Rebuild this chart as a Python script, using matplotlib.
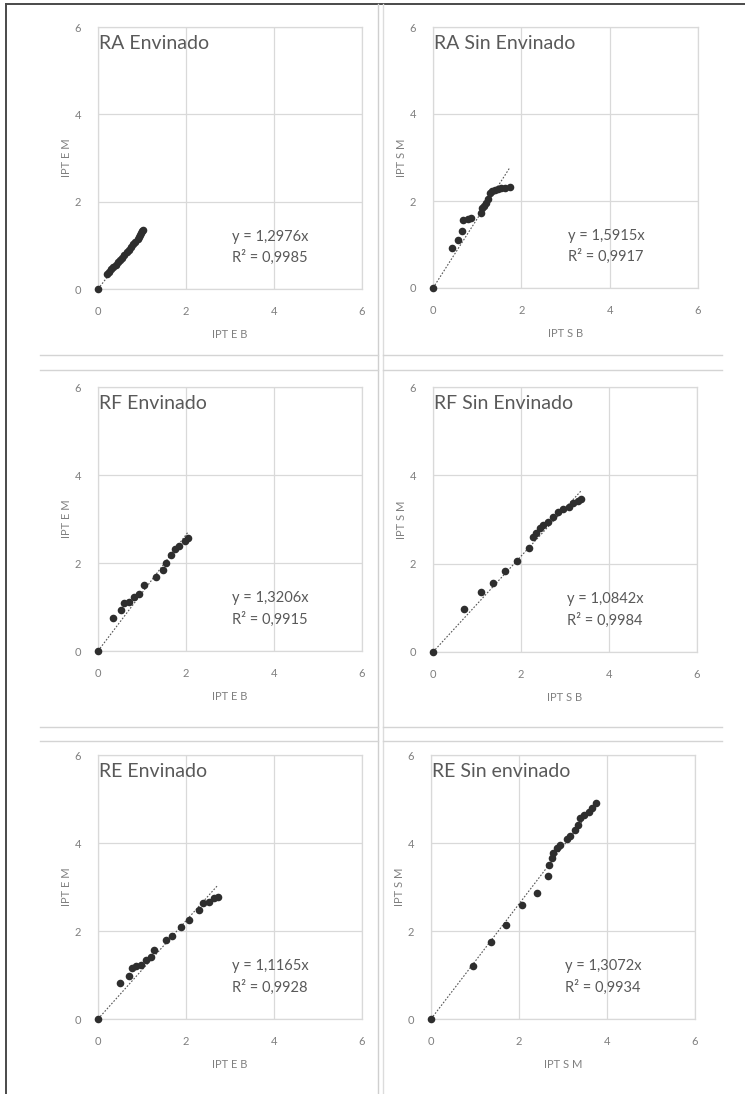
import matplotlib
matplotlib.use("Agg")
import numpy as np
import matplotlib.pyplot as plt
from matplotlib.lines import Line2D

plt.rcParams['font.family'] = ['Lato', 'DejaVu Sans']

# panel titles, axis labels and regression text
titles = ["RA Envinado", "RA Sin Envinado", "RF Envinado",
          "RF Sin Envinado", "RE Envinado", "RE Sin envinado"]
xlabels = ["IPT E B", "IPT S B", "IPT E B", "IPT S B", "IPT E B", "IPT S M"]
ylabels = ["IPT E M", "IPT S M", "IPT E M", "IPT S M", "IPT E M", "IPT S M"]
slopes = [1.2976, 1.5915, 1.3206, 1.0842, 1.1165, 1.3072]
r2 = [0.9985, 0.9917, 0.9915, 0.9984, 0.9928, 0.9934]

# RA Envinado
ra_e_x = [0.0, 0.20, 0.25, 0.30, 0.35, 0.40, 0.45, 0.50, 0.55, 0.60, 0.65,
          0.70, 0.75, 0.80, 0.85, 0.90, 0.93, 0.96, 0.98, 1.00, 1.02]
ra_e_y = [0.0, 0.35, 0.40, 0.45, 0.50, 0.55, 0.61, 0.67, 0.72, 0.78, 0.84,
          0.90, 0.96, 1.02, 1.08, 1.15, 1.19, 1.24, 1.28, 1.32, 1.36]
# RA Sin Envinado
ra_s_x = [0.0, 0.43, 0.57, 0.66, 0.68, 0.80, 0.87, 1.08, 1.10, 1.16, 1.21,
          1.25, 1.29, 1.34, 1.40, 1.47, 1.55, 1.64, 1.74]
ra_s_y = [0.0, 0.92, 1.10, 1.31, 1.57, 1.58, 1.60, 1.72, 1.83, 1.88, 1.95,
          2.05, 2.18, 2.22, 2.26, 2.28, 2.29, 2.30, 2.33]
# RF Envinado
rf_e_x = [0.0, 0.33, 0.52, 0.59, 0.71, 0.82, 0.94, 1.05, 1.32, 1.47, 1.55,
          1.66, 1.74, 1.85, 1.97, 2.04]
rf_e_y = [0.0, 0.74, 0.93, 1.08, 1.12, 1.23, 1.30, 1.49, 1.69, 1.84, 2.00,
          2.19, 2.31, 2.39, 2.49, 2.57]
# RF Sin Envinado
rf_s_x = [0.0, 0.71, 1.10, 1.37, 1.63, 1.92, 2.18, 2.28, 2.35, 2.43, 2.51,
          2.62, 2.73, 2.85, 2.96, 3.08, 3.19, 3.30, 3.36]
rf_s_y = [0.0, 0.98, 1.35, 1.57, 1.83, 2.06, 2.35, 2.61, 2.69, 2.80, 2.87,
          2.95, 3.06, 3.18, 3.24, 3.29, 3.37, 3.42, 3.46]
# RE Envinado
re_e_x = [0.0, 0.51, 0.70, 0.78, 0.87, 0.97, 1.08, 1.20, 1.27, 1.54, 1.69,
          1.88, 2.07, 2.30, 2.38, 2.53, 2.64, 2.72]
re_e_y = [0.0, 0.82, 0.97, 1.16, 1.20, 1.23, 1.35, 1.42, 1.57, 1.80, 1.88,
          2.10, 2.25, 2.48, 2.63, 2.67, 2.75, 2.78]
# RE Sin envinado
re_s_x = [0.0, 0.95, 1.36, 1.70, 2.06, 2.41, 2.65, 2.68, 2.74, 2.78, 2.86,
          2.93, 3.08, 3.16, 3.27, 3.35, 3.39, 3.47, 3.58, 3.67, 3.75]
re_s_y = [0.0, 1.20, 1.76, 2.13, 2.58, 2.87, 3.25, 3.50, 3.65, 3.77, 3.88,
          3.96, 4.08, 4.15, 4.30, 4.41, 4.56, 4.64, 4.71, 4.79, 4.92]

xs = [ra_e_x, ra_s_x, rf_e_x, rf_s_x, re_e_x, re_s_x]
ys = [ra_e_y, ra_s_y, rf_e_y, rf_s_y, re_e_y, re_s_y]

W, H = 745, 1094
fig = plt.figure(figsize=(W / 100, H / 100), dpi=100)

# axes boxes in pixels: left, right, top, bottom
boxes = [(98, 362, 27, 289), (433, 698, 27, 288),
         (98, 362, 387, 651), (433, 697, 387, 652),
         (98, 362, 755, 1019), (431, 695, 755, 1019)]

def px_line(x0, y0, x1, y1, color, lw):
    fig.add_artist(Line2D([x0 / W, x1 / W], [1 - y0 / H, 1 - y1 / H],
                          transform=fig.transFigure, color=color, lw=lw))

# page frame and chart borders
px_line(6, 4, W, 4, '#4a4a4a', 1.4)
px_line(6, 4, 6, H, '#4a4a4a', 1.4)
px_line(378, 4, 378, H, '#cfcfcf', 1.0)
px_line(383, 4, 383, H, '#dcdcdc', 1.0)
for yy in [355, 370, 727, 741]:
    px_line(40, yy, 378, yy, '#d4d4d4', 1.0)
    px_line(383, yy, 722, yy, '#d4d4d4', 1.0)

grey = '#7f7f7f'
for i in range(6):
    l, r, t, b = boxes[i]
    ax = fig.add_axes([l / W, 1 - b / H, (r - l) / W, (b - t) / H])
    x = np.array(xs[i])
    y = np.array(ys[i])
    ax.scatter(x, y, s=30, color='#2e2e2e', zorder=3, linewidths=0,
               clip_on=False)
    xl = np.array([0, x.max()])
    ax.plot(xl, slopes[i] * xl, linestyle=(0, (1.5, 1.5)), color='#555555',
            lw=0.8, zorder=2)
    ax.set_xlim(0, 6)
    ax.set_ylim(0, 6)
    ax.set_xticks([0, 2, 4, 6])
    ax.set_yticks([0, 2, 4, 6])
    ax.grid(True, color='#d9d9d9', lw=0.9)
    ax.set_axisbelow(True)
    for s in ax.spines.values():
        s.set_color('#d9d9d9')
        s.set_linewidth(0.9)
    ax.tick_params(length=0, labelsize=8, colors=grey, pad=12)
    ax.set_xlabel(xlabels[i], fontsize=8, color=grey, labelpad=9)
    ax.set_ylabel(ylabels[i], fontsize=8, color=grey, labelpad=2)
    ax.text(0.03, 5.62, titles[i], fontsize=14, color='#595959',
            va='center', ha='left')
    eq = f"y = {slopes[i]:.4f}x".replace('.', ',')
    rr = f"R² = {r2[i]:.4f}".replace('.', ',')
    ax.text(3.05, 1.2, eq, fontsize=10.5, color='#595959', va='center')
    ax.text(3.05, 0.72, rr, fontsize=10.5, color='#595959', va='center')

fig.savefig("out.png", dpi=100)
